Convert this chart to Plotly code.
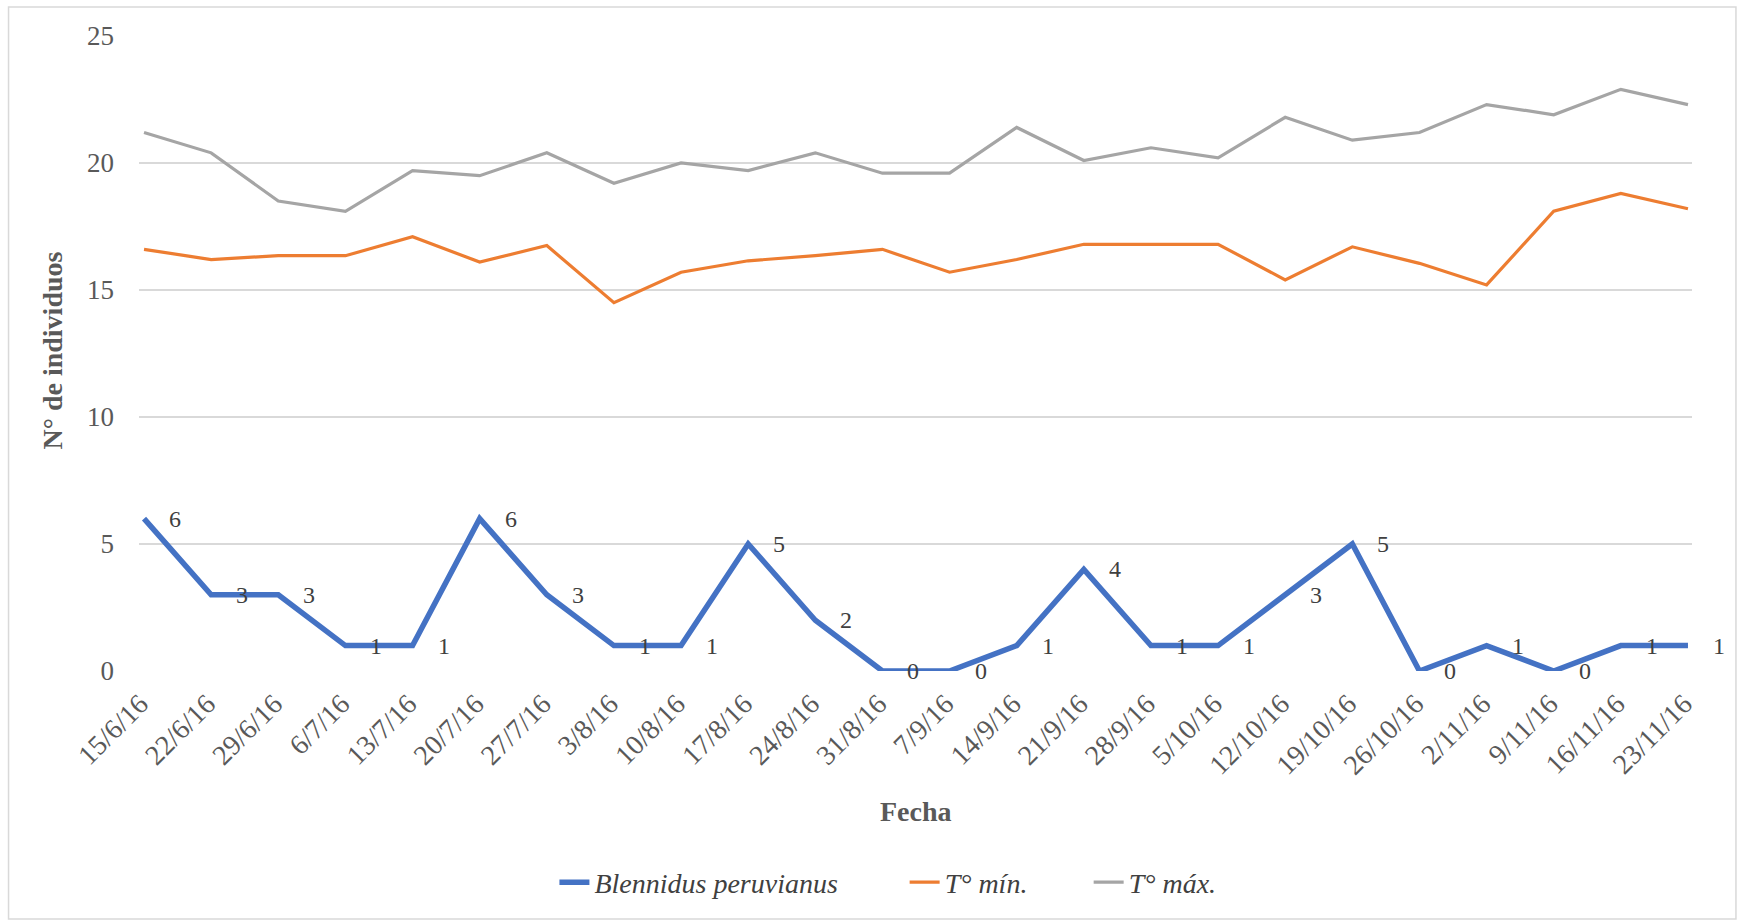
import plotly.graph_objects as go

# Sampling dates (weekly)
fechas = ["15/6/16", "22/6/16", "29/6/16", "6/7/16", "13/7/16", "20/7/16", "27/7/16",
          "3/8/16", "10/8/16", "17/8/16", "24/8/16", "31/8/16", "7/9/16", "14/9/16",
          "21/9/16", "28/9/16", "5/10/16", "12/10/16", "19/10/16", "26/10/16",
          "2/11/16", "9/11/16", "16/11/16", "23/11/16"]

# Number of individuals of Blennidus peruvianus per sampling date
blennidus = [6, 3, 3, 1, 1, 6, 3, 1, 1, 5, 2, 0, 0, 1, 4, 1, 1, 3, 5, 0, 1, 0, 1, 1]

# Minimum and maximum temperatures (°C)
t_min = [16.6, 16.2, 16.35, 16.35, 17.1, 16.1, 16.75, 14.5, 15.7, 16.15, 16.35, 16.6,
         15.7, 16.2, 16.8, 16.8, 16.8, 15.4, 16.7, 16.05, 15.2, 18.1, 18.8, 18.2]
t_max = [21.2, 20.4, 18.5, 18.1, 19.7, 19.5, 20.4, 19.2, 20.0, 19.7, 20.4, 19.6,
         19.6, 21.4, 20.1, 20.6, 20.2, 21.8, 20.9, 21.2, 22.3, 21.9, 22.9, 22.3]

y_ticks = [0, 5, 10, 15, 20, 25]

SERIF = "Liberation Serif"
AXIS_TXT = "#595959"
LABEL_TXT = "#404040"

fig = go.Figure()
fig.add_trace(go.Scatter(x=fechas, y=blennidus, mode="lines",
                         name="<i>Blennidus peruvianus</i>", legend="legend",
                         line=dict(color="#4472C4", width=5.5)))
fig.add_trace(go.Scatter(x=fechas, y=t_min, mode="lines", name="<i>T° mín.</i>",
                         legend="legend2",
                         line=dict(color="#ED7D31", width=3.2)))
fig.add_trace(go.Scatter(x=fechas, y=t_max, mode="lines", name="<i>T° máx.</i>",
                         legend="legend3",
                         line=dict(color="#A5A5A5", width=3.2)))

# Value labels to the right of each count point
annotations = [
    dict(x=f, y=v, text=str(v), xref="x", yref="y", showarrow=False,
         xanchor="left", yanchor="middle", xshift=23,
         font=dict(family=SERIF, size=24, color=LABEL_TXT))
    for f, v in zip(fechas, blennidus)
]

# Axis titles
annotations.append(dict(text="<b>Fecha</b>", xref="paper", yref="paper",
                        x=0.5, y=-0.2205, xanchor="center", yanchor="middle",
                        showarrow=False,
                        font=dict(family=SERIF, size=28, color=AXIS_TXT)))
annotations.append(dict(text="<b>N° de individuos</b>", xref="paper", yref="paper",
                        x=-0.0559, y=0.505, xanchor="center", yanchor="middle",
                        textangle=-90, showarrow=False,
                        font=dict(family=SERIF, size=28, color=AXIS_TXT)))


def legend_box(x):
    return dict(orientation="h", x=x, y=-0.333, xanchor="left", yanchor="middle",
                font=dict(family=SERIF, size=28, color=LABEL_TXT),
                bgcolor="rgba(0,0,0,0)", borderwidth=0)


fig.update_layout(
    width=1738, height=921,
    margin=dict(l=138.5, r=46, t=36, b=250),
    paper_bgcolor="white", plot_bgcolor="white",
    showlegend=True,
    legend=legend_box(0.2675),
    legend2=legend_box(0.4930),
    legend3=legend_box(0.6115),
    annotations=annotations,
    shapes=[dict(type="rect", xref="paper", yref="paper",
                 x0=-0.084, x1=1.0283, y0=-0.3906, y1=1.0457,
                 line=dict(color="#D9D9D9", width=1.5), fillcolor="rgba(0,0,0,0)",
                 layer="below")],
)

fig.update_xaxes(
    type="category", range=[-0.075, 23.06],
    showgrid=False, zeroline=False, showline=False, ticks="",
    tickangle=-45, ticklabelstandoff=10, ticklabelshift=-4,
    tickfont=dict(family=SERIF, size=28, color=AXIS_TXT),
)
fig.update_yaxes(
    range=[0, 25], tickvals=y_ticks,
    showgrid=True, gridcolor="#D9D9D9", gridwidth=1.5,
    zeroline=False, showline=False, ticks="",
    ticklabelstandoff=24,
    tickfont=dict(family=SERIF, size=27, color=AXIS_TXT),
)

fig.write_html("out.html")
